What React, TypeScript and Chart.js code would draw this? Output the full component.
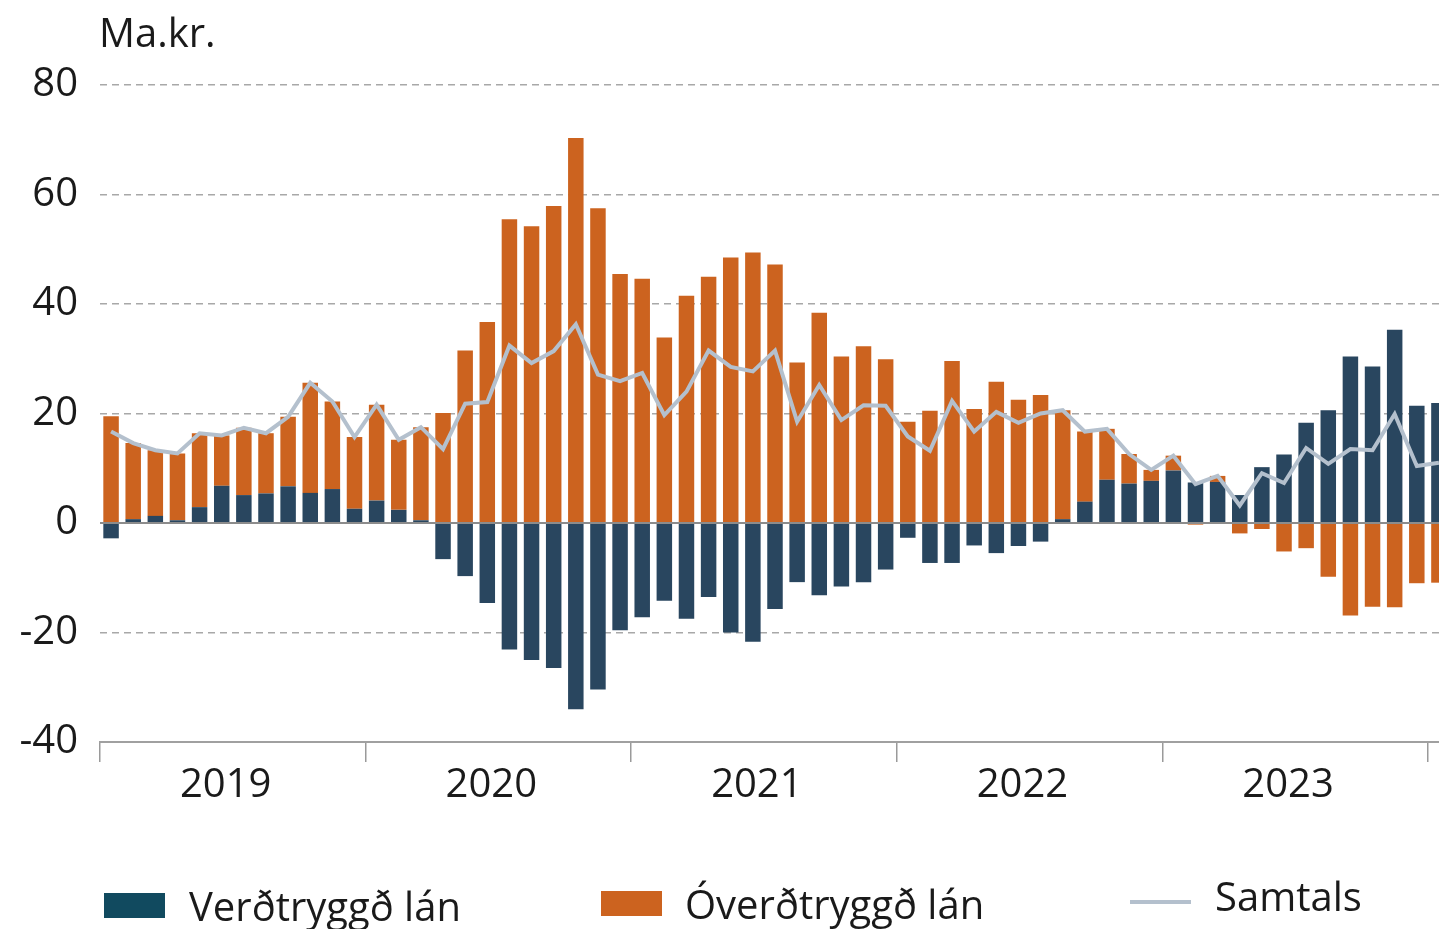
import React, { useEffect, useRef } from 'react';
import { Chart, registerables } from 'chart.js';

Chart.register(...registerables);

// ---- Data (Ma.kr., monthly, Jan 2019 – Jan 2024) ----
const years = ['2019', '2020', '2021', '2022', '2023', '2024'];
const monthNames = ['01', '02', '03', '04', '05', '06', '07', '08', '09', '10', '11', '12'];
const monthLabels: string[] = years
  .flatMap((y) => monthNames.map((m) => `${y}-${m}`))
  .slice(0, 61);

const yearTickLabels = ['2019', '2020', '2021', '2022', '2023'];

const verdtryggd = [
  -2.8, 0.7, 1.3, 0.5, 2.9, 6.8, 5.1, 5.4, 6.7, 5.5, 6.2, 2.6,
  4.1, 2.4, 0.5, -6.6, -9.7, -14.6, -23.1, -25.0, -26.5, -34.0, -30.4, -19.6,
  -17.2, -14.2, -17.5, -13.5, -20.0, -21.7, -15.7, -10.8, -13.2, -11.6, -10.8, -8.5,
  -2.7, -7.3, -7.3, -4.1, -5.5, -4.2, -3.4, 0.7, 3.9, 7.9, 7.2, 7.7,
  9.6, 7.4, 7.5, 5.1, 10.2, 12.5, 18.3, 20.6, 30.4, 28.6, 35.3, 21.4,
  21.9,
];

const overdtryggd = [
  19.5, 13.9, 12.0, 12.2, 13.5, 9.2, 12.3, 11.0, 12.7, 20.1, 16.0, 13.1,
  17.5, 12.8, 17.0, 20.1, 31.5, 36.7, 55.5, 54.2, 57.9, 70.3, 57.5, 45.5,
  44.6, 33.9, 41.5, 45.0, 48.5, 49.4, 47.2, 29.3, 38.4, 30.4, 32.3, 29.9,
  18.5, 20.5, 29.6, 20.8, 25.8, 22.5, 23.4, 19.9, 12.8, 9.3, 5.4, 2.0,
  2.7, -0.3, 1.1, -1.9, -1.1, -5.2, -4.6, -9.8, -16.9, -15.3, -15.4, -11.0,
  -10.9,
];

const samtals = [
  16.7, 14.6, 13.3, 12.7, 16.4, 16.0, 17.4, 16.4, 19.4, 25.6, 22.2, 15.7,
  21.6, 15.2, 17.5, 13.5, 21.8, 22.1, 32.4, 29.2, 31.4, 36.3, 27.1, 25.9,
  27.4, 19.7, 24.0, 31.5, 28.5, 27.7, 31.5, 18.5, 25.2, 18.8, 21.5, 21.4,
  15.8, 13.2, 22.3, 16.7, 20.3, 18.3, 20.0, 20.6, 16.7, 17.2, 12.6, 9.7,
  12.3, 7.1, 8.6, 3.2, 9.1, 7.3, 13.7, 10.8, 13.5, 13.3, 19.9, 10.4,
  11.0,
];

const seriesNames = ['Verðtryggð lán', 'Óverðtryggð lán', 'Samtals'];
const yTitle = 'Ma.kr.';

const COLOR_BLUE = '#29465f';
const COLOR_BLUE_LEGEND = '#114a5f';
const COLOR_ORANGE = '#cc631f';
const COLOR_LINE = '#b4c0cd';
const TEXT = '#1a1a1a';
const FONT = "'Open Sans', 'Noto Sans', sans-serif";
const FS = 40;

const zeroLinePlugin = {
  id: 'zeroLine',
  beforeDatasetDraw(chart: any, args: any) {
    if (args.index !== 2) return;
    const y = chart.scales.y.getPixelForValue(0);
    const { left, right } = chart.chartArea;
    const ctx = chart.ctx;
    ctx.save();
    ctx.strokeStyle = '#8c8c8c';
    ctx.lineWidth = 2;
    ctx.beginPath();
    ctx.moveTo(left, y);
    ctx.lineTo(right, y);
    ctx.stroke();
    ctx.restore();
  },
};

export default function App() {
  const canvasRef = useRef<HTMLCanvasElement | null>(null);

  useEffect(() => {
    document.body.style.margin = '0';
    document.body.style.overflow = 'hidden';
    const canvas = canvasRef.current;
    if (!canvas) return;
    const chart = new Chart(canvas, {
      type: 'bar',
      data: {
        labels: monthLabels,
        datasets: [
          {
            type: 'bar',
            label: seriesNames[0],
            data: verdtryggd,
            backgroundColor: COLOR_BLUE,
            stack: 's',
            order: 1,
            barPercentage: 0.7,
            categoryPercentage: 1,
          },
          {
            type: 'bar',
            label: seriesNames[1],
            data: overdtryggd,
            backgroundColor: COLOR_ORANGE,
            stack: 's',
            order: 1,
            barPercentage: 0.7,
            categoryPercentage: 1,
          },
          {
            type: 'line',
            label: seriesNames[2],
            data: samtals,
            borderColor: COLOR_LINE,
            borderWidth: 4,
            pointRadius: 0,
            tension: 0,
            stack: 'line',
            order: 0,
          } as any,
        ],
      },
      options: {
        responsive: false,
        animation: false,
        layout: { padding: { left: 0, right: 12, top: 85, bottom: 0 } },
        plugins: {
          legend: { display: false },
          tooltip: { enabled: false },
          title: { display: false },
        },
        scales: {
          x: {
            type: 'category',
            stacked: true,
            offset: true,
            afterFit: (scale: any) => {
              scale.height = 187;
            },
            grid: {
              offset: true,
              display: true,
              drawOnChartArea: false,
              drawTicks: true,
              tickLength: 20,
              tickWidth: 1.5,
              lineWidth: 1.5,
              color: (ctx: any) =>
                ctx.index !== undefined && ctx.index % 12 === 0 ? '#9a9a9a' : 'rgba(0,0,0,0)',
              tickColor: (ctx: any) =>
                ctx.index !== undefined && ctx.index % 12 === 0 ? '#9a9a9a' : 'rgba(0,0,0,0)',
            },
            border: { display: true, color: '#a0a0a0', width: 2 },
            ticks: {
              autoSkip: false,
              maxRotation: 0,
              minRotation: 0,
              labelOffset: 4,
              padding: 0,
              color: TEXT,
              font: { family: FONT, size: FS },
              callback: (_v: any, i: number) =>
                i % 12 === 5 ? yearTickLabels[Math.floor(i / 12)] ?? '' : '',
            },
          },
          y: {
            stacked: true,
            min: -40,
            max: 80,
            afterFit: (scale: any) => {
              scale.width = 100;
            },
            grid: {
              drawTicks: false,
              lineWidth: 1.5,
              color: (ctx: any) =>
                ctx.tick && (ctx.tick.value === 0 || ctx.tick.value === -40)
                  ? 'rgba(0,0,0,0)'
                  : '#a8a8a8',
            },
            border: { display: false, dash: [7, 5] },
            ticks: {
              stepSize: 20,
              padding: 22,
              color: TEXT,
              font: { family: FONT, size: FS },
            },
          },
        },
      },
      plugins: [zeroLinePlugin],
    });
    return () => chart.destroy();
  }, []);

  const textStyle: React.CSSProperties = {
    position: 'absolute',
    fontFamily: FONT,
    fontSize: FS,
    lineHeight: `${FS}px`,
    color: TEXT,
    whiteSpace: 'nowrap',
  };

  return (
    <div
      style={{
        position: 'fixed',
        left: 0,
        top: 0,
        width: 1439,
        height: 929,
        overflow: 'hidden',
        background: '#ffffff',
      }}
    >
      <canvas
        ref={canvasRef}
        width={1462}
        height={929}
        style={{ position: 'absolute', left: 0, top: 0, width: 1462, height: 929 }}
      />
      <div style={{ ...textStyle, left: 99, top: 12 }}>{yTitle}</div>

      <div style={{ position: 'absolute', left: 104, top: 893, width: 61, height: 25, background: COLOR_BLUE_LEGEND }} />
      <div style={{ ...textStyle, left: 189, top: 886 }}>{seriesNames[0]}</div>

      <div style={{ position: 'absolute', left: 601, top: 891, width: 61, height: 25, background: COLOR_ORANGE }} />
      <div style={{ ...textStyle, left: 685, top: 884 }}>{seriesNames[1]}</div>

      <div style={{ position: 'absolute', left: 1130, top: 900, width: 61, height: 4, background: COLOR_LINE }} />
      <div style={{ ...textStyle, left: 1215, top: 876 }}>{seriesNames[2]}</div>
    </div>
  );
}
